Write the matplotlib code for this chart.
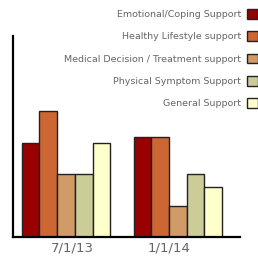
import matplotlib
matplotlib.use("Agg")
import matplotlib.pyplot as plt
import numpy as np

dates = ["7/1/13", "1/1/14"]
series = ["Emotional/Coping Support", "Healthy Lifestyle support",
          "Medical Decision / Treatment support", "Physical Symptom Support",
          "General Support"]
emotional = [6.0, 6.4]
healthy = [8.0, 6.4]
medical = [4.0, 2.0]
physical = [4.0, 4.0]
general = [6.0, 3.2]
colors = ["#990000", "#cc6633", "#d19a66", "#cccc99", "#ffffcc"]

values = [emotional, healthy, medical, physical, general]

fig = plt.figure(figsize=(2.58, 2.60), dpi=100)
ax = fig.add_axes([13 / 258, 1 - 237 / 260, 227 / 258, 201 / 260])

x = np.arange(len(dates))
w = 0.158
for i, (name, vals) in enumerate(zip(series, values)):
    ax.bar(x + (i - 2) * w, vals, w, color=colors[i], edgecolor="#222222",
           linewidth=1.0, label=name)

ax.set_xlim(-0.473, 1.554)
ax.set_ylim(0, 12.8)
ax.set_xticks(x + np.array([0.06, -0.08]))
ax.set_xticklabels(dates, fontsize=9.5, color="#666666")
ax.tick_params(axis="x", length=0, pad=3)
ax.set_yticks([])
for s in ["top", "right"]:
    ax.spines[s].set_visible(False)
for s in ["left", "bottom"]:
    ax.spines[s].set_linewidth(1.6)
    ax.spines[s].set_color("black")

leg = fig.legend(loc="upper right", bbox_to_anchor=(1.0, 1 - 9 / 260),
                 frameon=False, fontsize=6.8, markerfirst=False,
                 handlelength=1.2, handleheight=1.2, handletextpad=0.6,
                 labelspacing=1.3, borderpad=0, borderaxespad=0)
for t in leg.get_texts():
    t.set_color("#666666")

fig.savefig("out.png", dpi=100)
